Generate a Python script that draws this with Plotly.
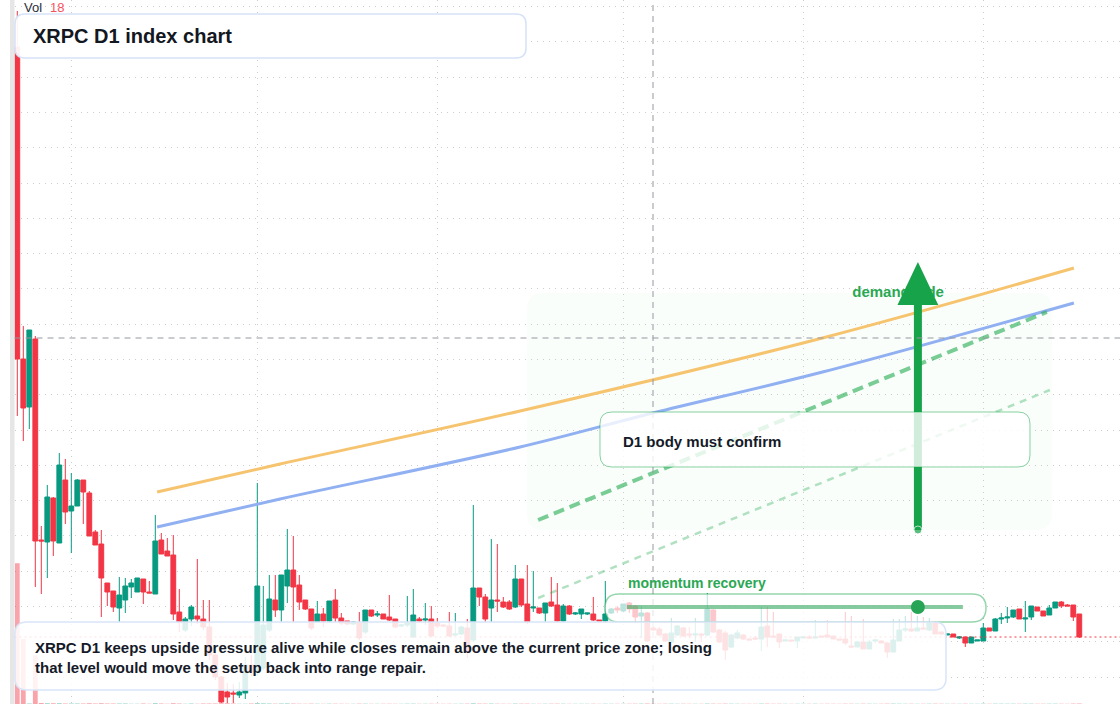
import pandas as pd
import plotly.graph_objects as go

# ---------------- data ----------------
start_date = "2025-02-20"

open_ = [6.57, 3.45, 2.97, 3.65, 1.64, 1.62, 2.06, 1.61, 2.24, 1.93,
         1.98, 2.24, 2.11, 1.72, 1.60, 1.21, 1.13, 0.96, 1.04, 1.17,
         1.12, 1.25, 1.12, 1.10, 1.64, 1.53, 1.49, 0.92, 0.74, 0.85,
         0.88, 0.85, 0.77, 0.49, 0.27, 0.12, 0.11, 0.09, 0.11, 0.39,
         0.32, 0.36, 0.74, 1.04, 0.94, 1.18, 1.34, 1.19, 1.04, 0.95,
         0.82, 0.90, 0.83, 1.04, 0.86, 0.83, 0.80, 0.81, 0.72, 0.94,
         0.89, 0.90, 0.87, 0.85, 0.78, 0.79, 0.67, 0.85, 0.84, 0.85,
         0.81, 0.79, 0.78, 0.69, 0.70, 0.76, 0.64, 1.16, 1.07, 0.96,
         1.04, 1.02, 1.02, 0.97, 1.25, 1.00, 0.96, 0.96, 0.91, 1.02,
         0.99, 0.83, 0.98, 0.90, 0.90, 0.90, 0.90, 0.84, 0.83, 0.91,
         0.96, 0.93, 1.01, 0.98, 0.88, 0.91, 0.76, 0.75, 0.70, 0.62,
         0.69, 0.76, 0.70, 0.69, 0.70, 0.69, 0.94, 0.74, 0.71, 0.57,
         0.66, 0.69, 0.65, 0.66, 0.65, 0.78, 0.68, 0.70, 0.63, 0.64,
         0.63, 0.66, 0.67, 0.66, 0.68, 0.69, 0.68, 0.65, 0.65, 0.58,
         0.57, 0.62, 0.55, 0.63, 0.63, 0.61, 0.52, 0.63, 0.74, 0.75,
         0.73, 0.76, 0.74, 0.81, 0.72, 0.69, 0.70, 0.66, 0.67, 0.61,
         0.63, 0.63, 0.76, 0.73, 0.85, 0.86, 0.87, 0.95, 0.85, 0.87,
         0.97, 0.93, 0.89, 0.96, 1.02, 0.99, 0.99, 0.90]

high = [6.93, 3.78, 3.74, 3.68, 1.78, 2.19, 2.07, 2.51, 2.45, 2.31,
        2.25, 2.24, 2.13, 1.74, 1.74, 1.21, 1.13, 1.27, 1.26, 1.25,
        1.26, 1.25, 1.23, 1.89, 1.71, 1.66, 1.69, 1.15, 0.87, 0.99,
        1.45, 1.04, 1.04, 0.54, 0.28, 0.21, 0.20, 0.22, 0.47, 0.49,
        2.21, 1.18, 1.29, 1.29, 1.29, 1.75, 1.68, 1.29, 1.04, 0.95,
        1.03, 0.96, 1.03, 1.15, 0.91, 0.83, 0.83, 0.92, 0.94, 0.94,
        0.93, 0.90, 1.09, 0.85, 0.80, 1.08, 1.15, 0.87, 1.01, 0.98,
        0.86, 0.80, 0.92, 0.91, 0.78, 0.85, 1.99, 1.16, 1.10, 1.65,
        1.60, 1.07, 1.04, 1.39, 1.25, 1.39, 1.33, 0.96, 1.01, 1.27,
        1.21, 1.00, 0.99, 0.92, 0.95, 0.91, 1.07, 0.84, 1.23, 0.96,
        0.98, 1.00, 1.02, 0.99, 0.98, 0.92, 0.78, 0.77, 0.71, 0.86,
        0.79, 0.77, 0.77, 0.86, 0.71, 1.11, 0.95, 0.75, 0.73, 0.70,
        0.74, 0.70, 0.66, 0.68, 0.97, 0.97, 0.92, 0.70, 0.64, 0.64,
        0.67, 0.68, 0.69, 0.84, 0.68, 0.84, 0.68, 0.65, 0.92, 0.88,
        0.63, 0.85, 0.64, 0.65, 0.64, 0.62, 0.85, 0.85, 0.88, 0.92,
        0.88, 0.87, 0.86, 0.83, 0.72, 0.70, 0.70, 0.68, 0.67, 0.67,
        0.64, 0.81, 0.76, 0.86, 0.91, 0.97, 0.94, 0.95, 1.03, 0.98,
        0.97, 0.93, 0.99, 1.02, 1.03, 1.00, 0.99, 0.90]

low = [2.88, 2.63, 2.75, 1.17, 1.10, 1.26, 1.48, 1.61, 1.80, 1.51,
       1.98, 1.80, 1.68, 1.59, 0.87, 0.98, 0.92, 0.82, 0.91, 1.06,
       1.12, 1.00, 1.11, 1.10, 1.50, 1.48, 0.84, 0.72, 0.72, 0.78,
       0.80, 0.74, 0.44, 0.24, 0.01, 0.01, 0.01, 0.06, 0.05, 0.28,
       0.28, 0.34, 0.72, 0.87, 0.82, 1.01, 0.82, 0.94, 0.94, 0.74,
       0.82, 0.77, 0.82, 0.82, 0.79, 0.79, 0.79, 0.64, 0.70, 0.87,
       0.87, 0.85, 0.83, 0.76, 0.77, 0.77, 0.66, 0.82, 0.79, 0.67,
       0.76, 0.77, 0.67, 0.68, 0.69, 0.46, 0.62, 0.98, 0.82, 0.82,
       0.92, 0.96, 0.94, 0.96, 0.97, 0.80, 0.92, 0.90, 0.82, 0.97,
       0.82, 0.82, 0.89, 0.89, 0.85, 0.89, 0.83, 0.83, 0.82, 0.90,
       0.91, 0.92, 0.91, 0.81, 0.66, 0.62, 0.73, 0.68, 0.62, 0.61,
       0.68, 0.67, 0.66, 0.62, 0.62, 0.68, 0.71, 0.61, 0.44, 0.56,
       0.65, 0.64, 0.64, 0.64, 0.53, 0.57, 0.67, 0.56, 0.63, 0.63,
       0.56, 0.66, 0.66, 0.66, 0.67, 0.66, 0.65, 0.64, 0.59, 0.56,
       0.57, 0.55, 0.55, 0.61, 0.61, 0.46, 0.52, 0.63, 0.72, 0.72,
       0.73, 0.75, 0.73, 0.70, 0.69, 0.69, 0.67, 0.65, 0.57, 0.61,
       0.63, 0.63, 0.73, 0.73, 0.80, 0.81, 0.86, 0.85, 0.72, 0.84,
       0.93, 0.88, 0.89, 0.96, 0.96, 0.98, 0.83, 0.66]

close = [3.45, 2.96, 3.74, 1.63, 1.63, 2.07, 1.63, 2.39, 1.92, 1.98,
         2.24, 2.12, 1.68, 1.59, 1.26, 1.12, 0.97, 1.09, 1.18, 1.21,
         1.26, 1.12, 1.11, 1.63, 1.50, 1.48, 0.90, 0.82, 0.85, 0.97,
         0.85, 0.77, 0.49, 0.27, 0.02, 0.07, 0.10, 0.12, 0.39, 0.32,
         1.18, 0.79, 1.05, 0.94, 1.29, 1.34, 1.17, 1.02, 0.95, 0.76,
         0.90, 0.83, 1.03, 0.86, 0.81, 0.80, 0.82, 0.66, 0.94, 0.88,
         0.90, 0.85, 0.84, 0.77, 0.79, 0.81, 0.89, 0.83, 0.85, 0.68,
         0.78, 0.78, 0.68, 0.70, 0.77, 0.52, 1.16, 1.07, 0.85, 1.04,
         1.03, 0.97, 0.95, 1.25, 0.99, 0.82, 0.97, 0.91, 1.01, 0.98,
         0.83, 0.98, 0.90, 0.91, 0.95, 0.91, 0.84, 0.83, 0.90, 0.95,
         0.94, 1.00, 0.95, 0.87, 0.91, 0.63, 0.74, 0.69, 0.63, 0.71,
         0.78, 0.68, 0.69, 0.70, 0.69, 0.95, 0.72, 0.62, 0.54, 0.69,
         0.71, 0.65, 0.64, 0.65, 0.77, 0.67, 0.67, 0.62, 0.64, 0.63,
         0.67, 0.67, 0.66, 0.67, 0.67, 0.67, 0.65, 0.64, 0.61, 0.57,
         0.62, 0.55, 0.62, 0.64, 0.61, 0.52, 0.64, 0.74, 0.75, 0.73,
         0.76, 0.75, 0.81, 0.70, 0.70, 0.70, 0.67, 0.67, 0.61, 0.67,
         0.64, 0.76, 0.73, 0.85, 0.86, 0.87, 0.94, 0.85, 0.86, 0.98,
         0.93, 0.88, 0.96, 1.02, 0.98, 0.98, 0.87, 0.67]

volume = [5200, 2400, 22, 1800, 35, 28, 24, 30, 19, 22,
          17, 21, 25, 14, 27, 16, 18, 20, 15, 12,
          13, 14, 11, 26, 15, 12, 24, 19, 13, 16,
          12, 15, 18, 20, 24, 26, 14, 12, 11, 18,
          30, 22, 17, 13, 19, 21, 16, 12, 10, 14,
          11, 9, 13, 12, 10, 8, 9, 14, 12, 9,
          8, 10, 11, 9, 8, 12, 13, 9, 10, 11,
          9, 8, 10, 9, 11, 14, 24, 15, 13, 16,
          12, 10, 9, 15, 13, 14, 10, 9, 11, 12,
          13, 11, 9, 8, 10, 9, 11, 8, 12, 10,
          9, 10, 11, 12, 14, 17, 10, 9, 11, 12,
          10, 11, 9, 10, 9, 15, 13, 11, 14, 12,
          10, 9, 8, 9, 14, 13, 10, 11, 9, 8,
          10, 9, 9, 11, 8, 10, 9, 8, 12, 11,
          10, 12, 11, 9, 10, 13, 14, 12, 10, 11,
          9, 10, 12, 13, 11, 9, 10, 9, 12, 10,
          9, 14, 10, 13, 12, 11, 12, 11, 14, 13,
          10, 11, 12, 13, 11, 9, 15, 18]

# time-scale grid (day offsets from start) and price grid
grid_days = [9, 40, 70, 101, 131, 161]
price_grid_start = 0.27
price_grid_step = 0.3528

# drawing anchors (day offset, price)
orange_days = [23.3, 43.8, 83.8, 134.2, 176.1]
orange_price = [2.12, 2.40, 2.93, 3.66, 4.36]
blue_days = [23.3, 43.8, 83.8, 105.95, 134.2, 176.1]
blue_price = [1.77, 2.05, 2.57, 2.91, 3.32, 4.01]
trend_days = [86.8, 171.6]
trend_price = [1.84, 3.92]
guide_days = [86.8, 172.1]
guide_price = [1.06, 3.14]
arrow_day = 150.1
arrow_from, arrow_neck, arrow_tip = 1.74, 3.99, 4.42
arrow_half_days = 3.4
demand_day, demand_price = 146.8, 4.11
cross_day, cross_price = 105.95, 3.66
momentum_days = [101.6, 157.6]
momentum_price = 0.97

# ---------------- styles ----------------
W, H = 1120, 704
GREEN = "#089981"
RED = "#f23645"
FONT = "Liberation Sans, Arial, sans-serif"
PANE_LEFT = 14.5      # px
FIRST_BAR = 17.3      # px
DAY_PX = 6.0          # px per day

base = pd.Timestamp(start_date)


def D(d):
    return (base + pd.Timedelta(days=float(d))).strftime("%Y-%m-%d %H:%M:%S")


dates = [D(i) for i in range(len(open_))]

fig = go.Figure()

vol_colors = ["rgba(8,153,129,0.45)" if c >= o else "rgba(242,54,69,0.45)"
              for o, c in zip(open_, close)]
fig.add_trace(go.Bar(x=dates, y=volume, marker=dict(color=vol_colors, line=dict(width=0)),
                     yaxis="y2", hoverinfo="skip"))

fig.add_trace(go.Candlestick(
    x=dates, open=open_, high=high, low=low, close=close,
    increasing=dict(line=dict(color=GREEN, width=1), fillcolor=GREEN),
    decreasing=dict(line=dict(color=RED, width=1), fillcolor=RED),
    whiskerwidth=0, hoverinfo="skip"))

fig.add_trace(go.Scatter(x=[D(d) for d in orange_days], y=orange_price, mode="lines",
                         line=dict(color="#f6c46f", width=3, shape="spline", smoothing=1.0),
                         hoverinfo="skip"))
fig.add_trace(go.Scatter(x=[D(d) for d in blue_days], y=blue_price, mode="lines",
                         line=dict(color="#90b0f2", width=3, shape="spline", smoothing=1.0),
                         hoverinfo="skip"))
fig.add_trace(go.Scatter(x=[D(d) for d in trend_days], y=trend_price, mode="lines",
                         line=dict(color="rgba(34,170,80,0.6)", width=4, dash="11px,6px"),
                         hoverinfo="skip"))
fig.add_trace(go.Scatter(x=[D(d) for d in guide_days], y=guide_price, mode="lines",
                         line=dict(color="rgba(34,170,80,0.35)", width=2.5, dash="7px,6px"),
                         hoverinfo="skip"))

fig.add_trace(go.Scatter(x=[D(demand_day)], y=[demand_price], mode="text",
                         text=["<b>demand side</b>"], textposition="middle center",
                         textfont=dict(family=FONT, size=15, color="#2aa853"), hoverinfo="skip"))

fig.add_trace(go.Scatter(x=[D(arrow_day), D(arrow_day)], y=[arrow_from, arrow_neck + 0.02],
                         mode="lines+markers", line=dict(color="#16a34a", width=8),
                         marker=dict(size=[8, 0], color="#16a34a"), hoverinfo="skip"))
fig.add_trace(go.Scatter(
    x=[D(arrow_day - arrow_half_days), D(arrow_day), D(arrow_day + arrow_half_days),
       D(arrow_day - arrow_half_days)],
    y=[arrow_neck, arrow_tip, arrow_neck, arrow_neck],
    mode="lines", fill="toself", fillcolor="#16a34a", line=dict(width=0, color="#16a34a"),
    hoverinfo="skip"))


def rr(x0, y0, x1, y1, r):
    def P(x, y):
        return f"{x / W:.5f},{1 - y / H:.5f}"
    return (f"M{P(x0 + r, y0)} L{P(x1 - r, y0)} Q{P(x1, y0)} {P(x1, y0 + r)} "
            f"L{P(x1, y1 - r)} Q{P(x1, y1)} {P(x1 - r, y1)} L{P(x0 + r, y1)} "
            f"Q{P(x0, y1)} {P(x0, y1 - r)} L{P(x0, y0 + r)} Q{P(x0, y0)} {P(x0 + r, y0)} Z")


shapes = [
    dict(type="path", xref="paper", yref="paper", path=rr(527, 293, 1052, 530, 16),
         fillcolor="rgba(34,197,94,0.025)", line=dict(width=0), layer="below"),
    dict(type="rect", xref="paper", yref="paper", x0=10 / W, x1=PANE_LEFT / W, y0=0, y1=1,
         fillcolor="#e6e6e6", line=dict(width=0), layer="above"),
    dict(type="line", xref="paper", x0=PANE_LEFT / W, x1=1, yref="y", y0=close[-1], y1=close[-1],
         line=dict(color=RED, width=1, dash="2px,3px"), layer="above"),
    dict(type="line", xref="x", x0=D(cross_day), x1=D(cross_day), yref="paper", y0=0, y1=1,
         line=dict(color="#9598a1", width=1, dash="6px,5px"), layer="above"),
    dict(type="line", xref="paper", x0=PANE_LEFT / W, x1=1, yref="y", y0=cross_price, y1=cross_price,
         line=dict(color="#9598a1", width=1, dash="6px,5px"), layer="above"),
    dict(type="path", xref="paper", yref="paper", path=rr(600, 412, 1030, 467, 12),
         fillcolor="rgba(255,255,255,0.8)", line=dict(color="rgba(22,163,74,0.5)", width=1),
         layer="above"),
    dict(type="path", xref="paper", yref="paper", path=rr(605, 594, 986, 622, 14),
         fillcolor="rgba(255,255,255,0.72)", line=dict(color="rgba(22,163,74,0.45)", width=1.5),
         layer="above"),
    dict(type="line", xref="x", x0=D(momentum_days[0]), x1=D(momentum_days[1]), yref="y",
         y0=momentum_price, y1=momentum_price,
         line=dict(color="rgba(34,160,80,0.55)", width=4), layer="above"),
    dict(type="circle", xref="x", xsizemode="pixel", xanchor=D(arrow_day), x0=-7, x1=7,
         yref="y", ysizemode="pixel", yanchor=momentum_price, y0=-7, y1=7,
         fillcolor="#27a455", line=dict(width=0), layer="above"),
    dict(type="path", xref="paper", yref="paper", path=rr(15, 14, 526, 58, 10),
         fillcolor="rgba(255,255,255,0.93)", line=dict(color="#d5e2f7", width=1.5), layer="above"),
    dict(type="path", xref="paper", yref="paper", path=rr(15, 622, 946, 690, 12),
         fillcolor="rgba(255,255,255,0.86)", line=dict(color="#d9e5f8", width=1.5), layer="above"),
]


def ann(x, y, text, size, color, bold=False):
    return dict(xref="paper", yref="paper", x=x / W, y=1 - y / H, xanchor="left", yanchor="middle",
                text=f"<b>{text}</b>" if bold else text, showarrow=False, align="left",
                font=dict(family=FONT, size=size, color=color))


annotations = [
    ann(22, 8, "Vol", 13, "#2a2e39"),
    ann(48, 8, str(volume[-1]), 13, "#f7525f"),
    ann(31, 36, "XRPC D1 index chart", 20, "#131722", True),
    ann(33, 657, "XRPC D1 keeps upside pressure alive while closes remain above the current price zone; losing"
        "<br>that level would move the setup back into range repair.", 15, "#151a28", True),
    ann(621, 441, "D1 body must confirm", 15, "#151a28", True),
    ann(626, 583, "momentum recovery", 14, "#2aa853", True),
]

fig.update_layout(
    width=W, height=H, margin=dict(l=0, r=0, t=0, b=0),
    paper_bgcolor="white", plot_bgcolor="white", showlegend=False, hovermode=False,
    font=dict(family=FONT), boxgap=0.2, boxgroupgap=0,
    shapes=shapes, annotations=annotations,
    xaxis=dict(domain=[PANE_LEFT / W, 1], type="date",
               range=[D(-(FIRST_BAR - PANE_LEFT) / DAY_PX), D((W - FIRST_BAR) / DAY_PX)],
               tickmode="array", tickvals=[D(k) for k in grid_days], showticklabels=False,
               showgrid=True, gridcolor="#cccccc", gridwidth=1, griddash="1px,5px",
               zeroline=False, showline=False, ticks="", rangeslider=dict(visible=False)),
    yaxis=dict(range=[0, 7.04], tick0=price_grid_start, dtick=price_grid_step,
               showticklabels=False, showgrid=True, gridcolor="#cccccc", gridwidth=1,
               griddash="1px,5px", zeroline=False, showline=False, ticks=""),
    yaxis2=dict(overlaying="y", range=[0, 26000], visible=False, showgrid=False),
)

fig.write_html("out.html", config={"displayModeBar": False},
               post_script="document.body.style.margin='0';document.body.style.overflow='hidden';")
